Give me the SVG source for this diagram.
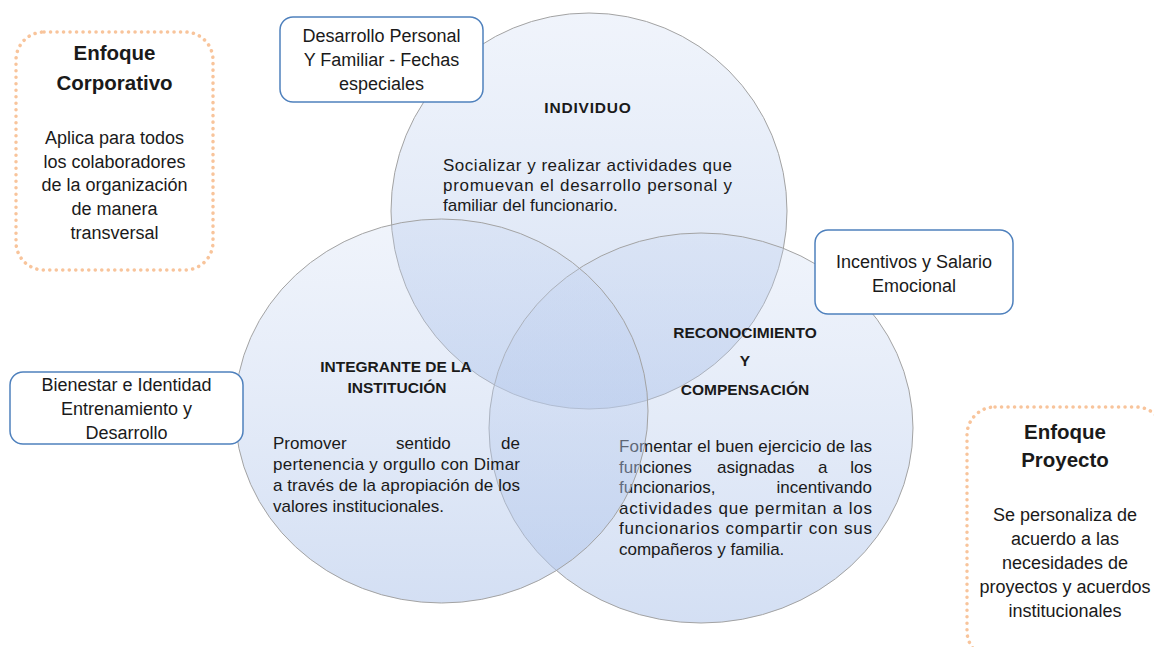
<svg xmlns="http://www.w3.org/2000/svg" width="1154" height="647" viewBox="0 0 1154 647">
<defs>
<linearGradient id="vg" x1="0" y1="0" x2="0" y2="1">
<stop offset="0" stop-color="#c3d3f0" stop-opacity="0.25"/>
<stop offset="1" stop-color="#b0c5ea" stop-opacity="0.55"/>
</linearGradient>
<style>
.venn{fill:url(#vg);stroke:#a3a3a3;stroke-width:1;}
.box{fill:#ffffff;stroke:#4f81bd;stroke-width:1.5;}
.dot{fill:#ffffff;stroke:#f8c49b;stroke-width:3.5;stroke-dasharray:0.1 6.4;stroke-linecap:round;}
text{font-family:"Liberation Sans",Arial,sans-serif;fill:#1a1a1a;}
.hd{font-size:15.5px;font-weight:bold;text-anchor:middle;}
.bd{font-size:17px;}
.bx{font-size:18px;text-anchor:middle;}
.eh{font-size:20.5px;font-weight:bold;text-anchor:middle;}
</style>
</defs>
<rect x="0" y="0" width="1154" height="647" fill="#ffffff"/>
<g id="connectors"/>
<g id="individuo">
<circle class="venn" cx="589" cy="211" r="198"/>
<text class="hd" x="588" y="113" letter-spacing="0.8">INDIVIDUO</text>
<text class="bd" x="443" y="171" textLength="289" lengthAdjust="spacing">Socializar y realizar actividades que</text>
<text class="bd" x="443" y="191" textLength="289" lengthAdjust="spacing">promuevan el desarrollo personal y</text>
<text class="bd" x="443" y="211">familiar del funcionario.</text>
</g>
<g id="reconocimiento">
<ellipse class="venn" cx="701" cy="428" rx="212" ry="195"/>
<text class="hd" x="745" y="338">RECONOCIMIENTO</text>
<text class="hd" x="745" y="366">Y</text>
<text class="hd" x="745" y="395">COMPENSACIÓN</text>
<text class="bd" x="619" y="452" textLength="253" lengthAdjust="spacing">Fomentar el buen ejercicio de las</text>
<text class="bd" x="619" y="473">funciones</text>
<text class="bd" x="717" y="473">asignadas</text>
<text class="bd" x="818" y="473">a</text>
<text class="bd" x="872" y="473" text-anchor="end">los</text>
<text class="bd" x="619" y="493">funcionarios,</text>
<text class="bd" x="872" y="493" text-anchor="end">incentivando</text>
<text class="bd" x="619" y="514" textLength="253" lengthAdjust="spacing">actividades que permitan a los</text>
<text class="bd" x="619" y="534" textLength="253" lengthAdjust="spacing">funcionarios compartir con sus</text>
<text class="bd" x="619" y="555">compañeros y familia.</text>
</g>
<g id="integrante">
<ellipse class="venn" cx="441.5" cy="411" rx="206.5" ry="192"/>
<text class="hd" x="396" y="372">INTEGRANTE DE LA</text>
<text class="hd" x="397" y="393">INSTITUCIÓN</text>
<text class="bd" x="273" y="449">Promover</text>
<text class="bd" x="396" y="449">sentido</text>
<text class="bd" x="520" y="449" text-anchor="end">de</text>
<text class="bd" x="273" y="470" textLength="247" lengthAdjust="spacing">pertenencia y orgullo con Dimar</text>
<text class="bd" x="273" y="491" textLength="247" lengthAdjust="spacing">a través de la apropiación de los</text>
<text class="bd" x="273" y="512">valores institucionales.</text>
</g>
<g id="box-desarrollo">
<rect class="box" x="280" y="17" width="203" height="85" rx="13"/>
<text class="bx" x="381.5" y="42">Desarrollo Personal</text>
<text class="bx" x="381.5" y="66">Y Familiar - Fechas</text>
<text class="bx" x="381.5" y="90">especiales</text>
</g>
<g id="box-incentivos">
<rect class="box" x="815" y="230" width="198" height="84" rx="13"/>
<text class="bx" x="914" y="268">Incentivos y Salario</text>
<text class="bx" x="914" y="292">Emocional</text>
</g>
<g id="box-bienestar">
<rect class="box" x="10" y="372" width="233" height="72" rx="13"/>
<text class="bx" x="126.5" y="391">Bienestar e Identidad</text>
<text class="bx" x="126.5" y="415">Entrenamiento y</text>
<text class="bx" x="126.5" y="439">Desarrollo</text>
</g>
<g id="enfoque-corporativo">
<rect class="dot" x="16" y="32" width="197" height="238" rx="28"/>
<text class="eh" x="114.5" y="60">Enfoque</text>
<text class="eh" x="114.5" y="90">Corporativo</text>
<text class="bx" x="114.5" y="144">Aplica para todos</text>
<text class="bx" x="114.5" y="167.7">los colaboradores</text>
<text class="bx" x="114.5" y="191.4">de la organización</text>
<text class="bx" x="114.5" y="215">de manera</text>
<text class="bx" x="114.5" y="238.8">transversal</text>
</g>
<g id="enfoque-proyecto">
<rect class="dot" x="967" y="407" width="197" height="252" rx="28"/>
<text class="eh" x="1065" y="439">Enfoque</text>
<text class="eh" x="1065" y="467">Proyecto</text>
<text class="bx" x="1065" y="521">Se personaliza de</text>
<text class="bx" x="1065" y="545">acuerdo a las</text>
<text class="bx" x="1065" y="569">necesidades de</text>
<text class="bx" x="1065" y="593">proyectos y acuerdos</text>
<text class="bx" x="1065" y="617">institucionales</text>
</g>
</svg>
